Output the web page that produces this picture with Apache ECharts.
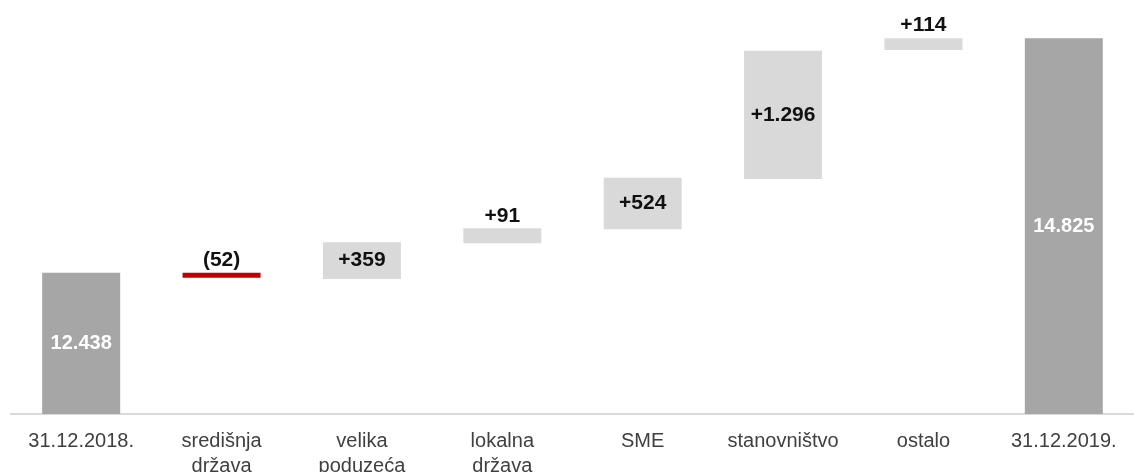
<!DOCTYPE html>
<html>
<head>
<meta charset="utf-8">
<script src="https://cdn.jsdelivr.net/npm/echarts@6/dist/echarts.min.js"></script>
<style>
html,body{margin:0;padding:0;background:#fff;}
#chart{width:1134px;height:472px;}
</style>
</head>
<body>
<div id="chart"></div>
<script>
var categories = ['31.12.2018.', 'središnja\ndržava', 'velika\npoduzeća', 'lokalna\ndržava', 'SME', 'stanovništvo', 'ostalo', '31.12.2019.'];
// tekst iznad / u stupcu
var valueLabels = ['12.438', '(52)', '+359', '+91', '+524', '+1.296', '+114', '14.825'];
// vrsta stupca
var kinds = ['total', 'down', 'up', 'up', 'up', 'up', 'up', 'total'];
// nevidljiva podloga (početak stupca) i visina stupca, očitano sa slike
var baseVals = [0, 12386, 12375, 12738, 12880, 13392, 14705, 0];
var barVals = [12438, 52, 372, 152, 525, 1306, 120, 14825];

var myChart;

function boja(i){
	if(kinds[i]=='total') return '#a6a6a6';
	if(kinds[i]=='down') return '#c00000';
	return '#d9d9d9';
}

function crtaj(){
	var podaci = [];
	for(var i=0;i<barVals.length;i++){
		var v = barVals[i];
		var unutra = kinds[i]=='total' || v > 300;
		podaci.push({
			value: v,
			itemStyle: {color: boja(i)},
			label: {
				show: true,
				position: unutra ? 'inside' : 'top',
				distance: 2,
				color: kinds[i]=='total' ? '#ffffff' : '#111111',
				fontWeight: 'bold',
				fontSize: kinds[i]=='total' ? 20 : 21
			}
		});
	}

	var option = {
		animation: false,
		textStyle: {fontFamily: 'Liberation Sans, Arial, sans-serif'},
		grid: {left: 11, right: 0, top: 21, bottom: 58, outerBoundsMode: 'none', containLabel: false},
		xAxis: {
			type: 'category',
			data: categories,
			axisTick: {show: false},
			axisLine: {lineStyle: {color: '#d9d9d9', width: 2}},
			axisLabel: {
				interval: 0,
				color: '#404040',
				fontSize: 20,
				lineHeight: 25,
				margin: 15,
				fontFamily: 'Liberation Sans, Arial, sans-serif'
			}
		},
		yAxis: {
			type: 'value',
			min: 11000,
			max: 15000,
			show: false,
			splitLine: {show: false}
		},
		series: [
			{
				name: 'podloga',
				type: 'bar',
				stack: 'w',
				silent: true,
				barWidth: 78,
				itemStyle: {color: 'transparent'},
				data: baseVals
			},
			{
				name: 'iznos',
				type: 'bar',
				stack: 'w',
				barWidth: 78,
				clip: true,
				label: {
					show: true,
					formatter: function(p){ return valueLabels[p.dataIndex]; }
				},
				data: podaci
			}
		]
	};
	myChart = echarts.init(document.getElementById('chart'));
	myChart.setOption(option);
}

crtaj();
</script>
</body>
</html>
